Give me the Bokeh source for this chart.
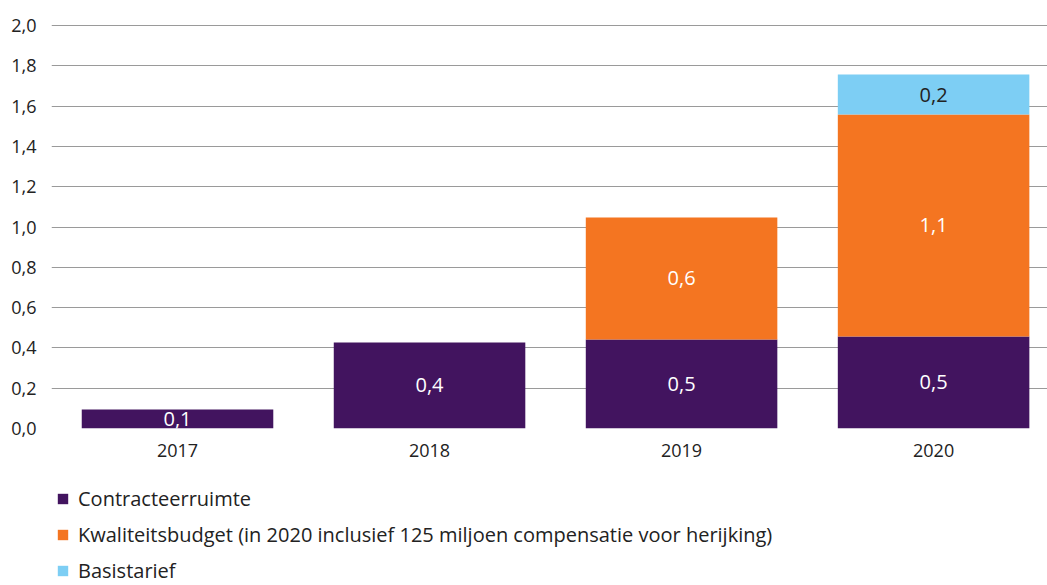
from bokeh.plotting import figure
from bokeh.layouts import column
from bokeh.models import (ColumnDataSource, Legend, LegendItem, Range1d, FixedTicker,
                          LabelSet, CustomJSTickFormatter)
from bokeh.core.properties import value
from bokeh.embed import file_html
from bokeh.resources import INLINE

years = ["2017", "2018", "2019", "2020"]
contracteerruimte = [0.094, 0.427, 0.442, 0.457]
kwaliteitsbudget = [0.0, 0.0, 0.605, 1.101]
basistarief = [0.0, 0.0, 0.0, 0.199]
label_contract = ["0,1", "0,4", "0,5", "0,5"]
label_kwal = ["", "", "0,6", "1,1"]
label_basis = ["", "", "", "0,2"]
y_ticks = [0.0, 0.2, 0.4, 0.6, 0.8, 1.0, 1.2, 1.4, 1.6, 1.8, 2.0]
series_names = ["Contracteerruimte",
                "Kwaliteitsbudget (in 2020 inclusief 125 miljoen compensatie voor herijking)",
                "Basistarief"]
colors = ["#42145f", "#f47521", "#7dcef4"]

FONT = "Open Sans"
TXT = "#222222"

xs = list(range(len(years)))
src = ColumnDataSource(dict(x=xs, c=contracteerruimte, k=kwaliteitsbudget, b=basistarief))

p = figure(width=1047, height=470, output_backend="svg", toolbar_location=None,
           x_range=Range1d(-0.5, 3.452), y_range=Range1d(0, 2.01),
           min_border_left=51, min_border_right=0, min_border_top=23, min_border_bottom=42)
p.outline_line_color = None
p.background_fill_color = "white"

renderers = p.vbar_stack(["c", "k", "b"], x="x", width=0.76, color=colors,
                         line_color=None, source=src)

# labels
lx, ly, lt, lc = [], [], [], []
for i in xs:
    c, k, b = contracteerruimte[i], kwaliteitsbudget[i], basistarief[i]
    if label_contract[i]:
        lx.append(i); ly.append(c / 2); lt.append(label_contract[i]); lc.append("white")
    if label_kwal[i]:
        lx.append(i); ly.append(c + k / 2); lt.append(label_kwal[i]); lc.append("white")
    if label_basis[i]:
        lx.append(i); ly.append(c + k + b / 2); lt.append(label_basis[i]); lc.append(TXT)
lsrc = ColumnDataSource(dict(x=lx, y=ly, t=lt, col=lc))
p.add_layout(LabelSet(x="x", y="y", text="t", source=lsrc, text_align="center",
                      text_baseline="middle", text_font=value(FONT), text_font_size="20px",
                      text_color="col"))

# axes
p.yaxis.ticker = FixedTicker(ticks=y_ticks)
p.yaxis.formatter = CustomJSTickFormatter(code="return tick.toFixed(1).replace('.', ',');")
p.yaxis.axis_line_color = None
p.yaxis.major_tick_line_color = None
p.yaxis.minor_tick_line_color = None
p.yaxis.major_label_standoff = 9
p.yaxis.major_label_text_font = FONT
p.yaxis.major_label_text_font_size = "18px"
p.yaxis.major_label_text_color = TXT

p.xaxis.ticker = FixedTicker(ticks=xs)
p.xaxis.major_label_overrides = {i: y for i, y in zip(xs, years)}
p.xaxis.axis_line_color = None
p.xaxis.major_tick_line_color = None
p.xaxis.minor_tick_line_color = None
p.xaxis.major_label_standoff = 9
p.xaxis.major_label_text_font = FONT
p.xaxis.major_label_text_font_size = "18px"
p.xaxis.major_label_text_color = TXT

p.xgrid.grid_line_color = None
p.ygrid.ticker = FixedTicker(ticks=y_ticks)
p.ygrid.grid_line_color = "#9a9a9a"
p.ygrid.grid_line_width = 1

# legend figure
p2 = figure(width=1047, height=115, output_backend="svg", toolbar_location=None,
            x_range=Range1d(0, 1), y_range=Range1d(0, 1), x_axis_type=None, y_axis_type=None,
            min_border_left=36, min_border_right=0, min_border_top=10, min_border_bottom=0)
p2.outline_line_color = None
p2.xgrid.grid_line_color = None
p2.ygrid.grid_line_color = None
dummies = [p2.vbar(x=[0], top=[0], bottom=[0], width=0, fill_color=c, line_color=None)
           for c in colors]
legend = Legend(items=[LegendItem(label=n, renderers=[r]) for n, r in zip(series_names, dummies)],
                location="top_left", orientation="vertical", margin=5, padding=6,
                spacing=9, label_height=26, glyph_height=13, glyph_width=13,
                label_standoff=9, label_text_font=FONT, label_text_font_size="20px",
                label_text_color=TXT, border_line_color=None, background_fill_alpha=0)
p2.add_layout(legend, "center")

layout = column(p, p2, spacing=0)
open("out.html", "w").write(file_html(layout, INLINE))
